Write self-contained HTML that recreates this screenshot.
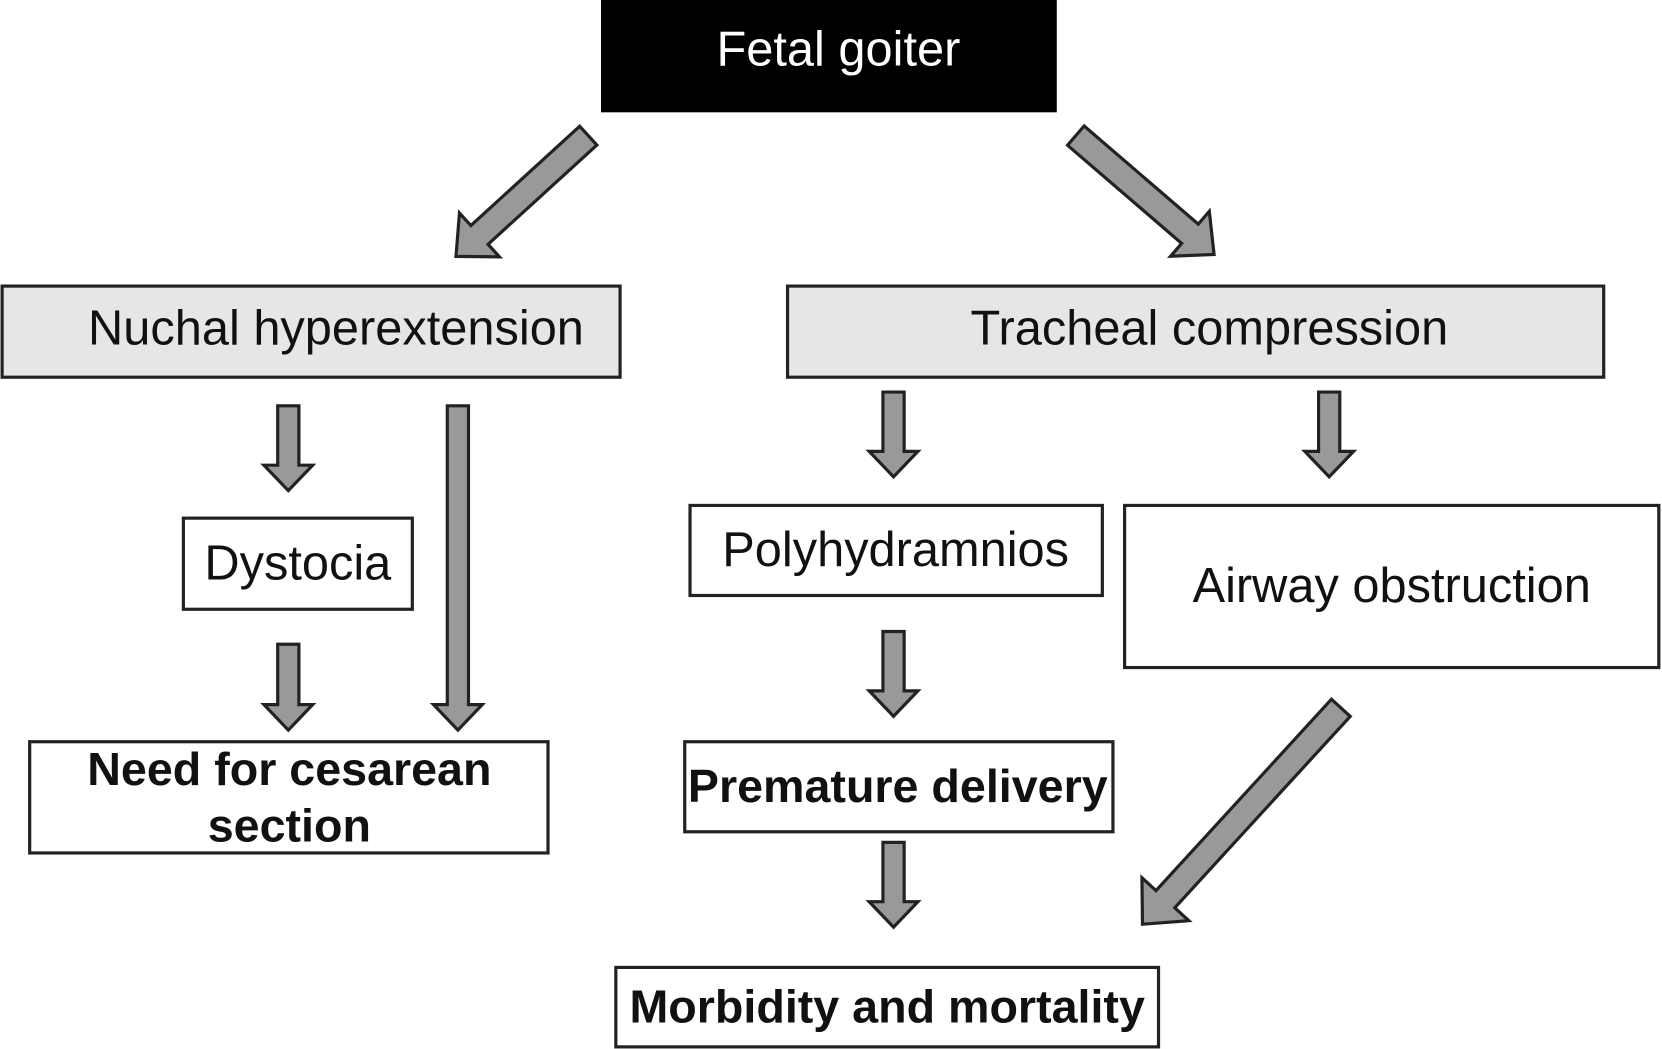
<!DOCTYPE html>
<html><head><meta charset="utf-8"><style>html,body{margin:0;padding:0;background:#fff}svg{display:block}</style></head>
<body>
<svg width="1662" height="1049" viewBox="0 0 1568 990" preserveAspectRatio="none" xmlns="http://www.w3.org/2000/svg" font-family="Liberation Sans, sans-serif">
<rect x="567" y="0" width="430" height="106" fill="#000"/>
<text x="791" y="62" font-size="46" fill="#fff" text-anchor="middle">Fetal goiter</text>

<g stroke="#222" stroke-width="3">
<rect x="2" y="270" width="583" height="86" fill="#e6e6e6"/>
<rect x="743" y="270" width="770" height="86" fill="#e6e6e6"/>
<rect x="173" y="489" width="216" height="86" fill="#fff"/>
<rect x="28" y="700" width="489" height="105" fill="#fff"/>
<rect x="651" y="477" width="389" height="85" fill="#fff"/>
<rect x="1061" y="477" width="504" height="153" fill="#fff"/>
<rect x="646" y="700" width="404" height="85" fill="#fff"/>
<rect x="581" y="913" width="512" height="75" fill="#fff"/>
</g>

<g font-size="46" fill="#111" text-anchor="middle">
<text x="317" y="325">Nuchal hyperextension</text>
<text x="1141" y="325">Tracheal compression</text>
<text x="281" y="547">Dystocia</text>
<text x="845" y="534">Polyhydramnios</text>
<text x="1313" y="568">Airway obstruction</text>
</g>
<g font-size="44" font-weight="bold" fill="#111" text-anchor="middle">
<text x="273" y="741">Need for cesarean</text>
<text x="273" y="794">section</text>
<text x="847" y="757">Premature delivery</text>
<text x="837" y="965">Morbidity and mortality</text>
</g>

<g fill="#999" stroke="#222" stroke-width="3" stroke-linejoin="miter">
<polygon transform="translate(272,383) rotate(90)" points="0,-10 56,-10 56,-23 80,0 56,23 56,10 0,10"/>
<polygon transform="translate(432,383) rotate(90)" points="0,-10 282,-10 282,-23 306,0 282,23 282,10 0,10"/>
<polygon transform="translate(272,608) rotate(90)" points="0,-10 57,-10 57,-23 81,0 57,23 57,10 0,10"/>
<polygon transform="translate(843,370) rotate(90)" points="0,-10 56,-10 56,-23 80,0 56,23 56,10 0,10"/>
<polygon transform="translate(1254,370) rotate(90)" points="0,-10 56,-10 56,-23 80,0 56,23 56,10 0,10"/>
<polygon transform="translate(843,596) rotate(90)" points="0,-10 56,-10 56,-23 80,0 56,23 56,10 0,10"/>
<polygon transform="translate(843,795) rotate(90)" points="0,-10 56,-10 56,-23 80,0 56,23 56,10 0,10"/>
<polygon transform="translate(555,128) rotate(137.6)" points="0,-12 139,-12 139,-28 169,0 139,28 139,12 0,12"/>
<polygon transform="translate(1015,128) rotate(40.7)" points="0,-12 142,-12 142,-28 172,0 142,28 142,12 0,12"/>
<polygon transform="translate(1265,668) rotate(132.5)" points="0,-12 245,-12 245,-30 277,0 245,30 245,12 0,12"/>
</g>
</svg>
</body></html>
